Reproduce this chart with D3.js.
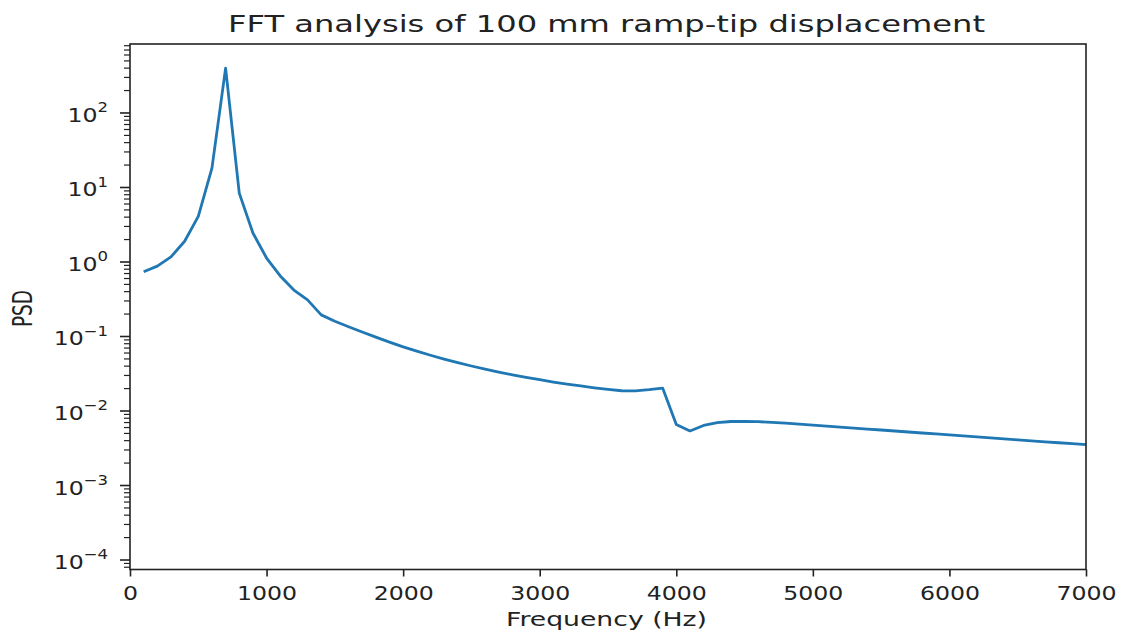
<!DOCTYPE html>
<html>
<head>
<meta charset="utf-8">
<script src="https://cdn.jsdelivr.net/npm/d3@7"></script>
<style>
  body { margin: 0; background: #fff; }
  svg text { font-family: "DejaVu Sans", sans-serif; fill: #222; }
</style>
</head>
<body>
<svg id="chart" width="1129" height="632"></svg>
<script>
// frequency samples (Hz) and PSD
const freqs = [
  100, 200, 300, 400, 500, 600, 700, 800, 900, 1000,
  1100, 1200, 1300, 1400, 1500, 1600, 1700, 1800, 1900, 2000,
  2100, 2200, 2300, 2400, 2500, 2600, 2700, 2800, 2900, 3000,
  3100, 3200, 3300, 3400, 3500, 3600, 3700, 3800, 3900, 4000,
  4100, 4200, 4300, 4400, 4500, 4600, 4700, 4800, 4900, 5000,
  5100, 5200, 5300, 5400, 5500, 5600, 5700, 5800, 5900, 6000,
  6100, 6200, 6300, 6400, 6500, 6600, 6700, 6800, 6900, 7000
];
const psd = [
  0.74, 0.88, 1.17, 1.9, 4.1, 18.2, 400, 8.4, 2.45, 1.13,
  0.65, 0.42, 0.31, 0.195, 0.160, 0.135, 0.115, 0.098, 0.084, 0.0725,
  0.0635, 0.0560, 0.0498, 0.0446, 0.0402, 0.0365, 0.0333, 0.0306, 0.0283, 0.0263,
  0.0245, 0.0230, 0.0217, 0.0205, 0.0195, 0.0187, 0.0186, 0.0193, 0.0203, 0.0066,
  0.0054, 0.0064, 0.0070, 0.00723, 0.00725, 0.00718, 0.00705, 0.00688, 0.00668, 0.00648,
  0.00628, 0.00609, 0.00591, 0.00573, 0.00556, 0.00539, 0.00523, 0.00507, 0.00492, 0.00477,
  0.00463, 0.00449, 0.00436, 0.00423, 0.00410, 0.00398, 0.00386, 0.00375, 0.00364, 0.00353
];
const xTicks = [0, 1000, 2000, 3000, 4000, 5000, 6000, 7000];
const yPowers = [-4, -3, -2, -1, 0, 1, 2];

const margin = { top: 44, left: 130 };
const width = 956;
const height = 525.5;
const stretch = 1.18; // the picture is stretched sideways

const svg = d3.select("#chart");
const g = svg.append("g").attr("transform", `translate(${margin.left},${margin.top})`);

const x = d3.scaleLinear().domain([0, 7000]).range([0, width]);
const y = d3.scaleLog().domain([7.46e-5, 843]).range([height, 0]);

// line
g.append("path")
  .datum(freqs.map((f, i) => [f, psd[i]]))
  .attr("fill", "none")
  .attr("stroke", "#1f77b4")
  .attr("stroke-width", 2.8)
  .attr("stroke-linejoin", "round")
  .attr("d", d3.line().x((d) => x(d[0])).y((d) => y(d[1])));

// x axis
const xAxis = g.append("g")
  .attr("transform", `translate(0,${height})`)
  .call(d3.axisBottom(x).tickValues(xTicks).tickFormat(d3.format("d")).tickSize(7).tickPadding(9));
xAxis.select(".domain").remove();
xAxis.selectAll("line").attr("stroke", "#222").attr("stroke-width", 1.6);
xAxis.selectAll("text")
  .attr("font-size", 20)
  .attr("transform", `scale(${stretch},1)`);

// y axis: minor ticks
const minor = [];
for (let p = -5; p <= 2; p++) {
  for (let m = 2; m <= 9; m++) {
    const v = m * Math.pow(10, p);
    if (v >= y.domain()[0] && v <= y.domain()[1]) minor.push(v);
  }
}
g.append("g").selectAll("line").data(minor).join("line")
  .attr("x1", -6).attr("x2", 0)
  .attr("y1", (d) => y(d)).attr("y2", (d) => y(d))
  .attr("stroke", "#222").attr("stroke-width", 1.2);

// y axis: major ticks
const majors = yPowers.map((p) => Math.pow(10, p));
g.append("g").selectAll("line").data(majors).join("line")
  .attr("x1", -10).attr("x2", 0)
  .attr("y1", (d) => y(d)).attr("y2", (d) => y(d))
  .attr("stroke", "#222").attr("stroke-width", 1.6);

const yLab = g.append("g").selectAll("text").data(yPowers).join("text")
  .attr("text-anchor", "end")
  .attr("transform", (p) => `translate(-22,${y(Math.pow(10, p)) + 9}) scale(${stretch},1)`)
  .attr("font-size", 20);
yLab.append("tspan").text("10");
yLab.append("tspan")
  .attr("dy", -10)
  .attr("font-size", 14)
  .text((p) => (p < 0 ? "\u2212" + Math.abs(p) : String(p)));

// frame
g.append("rect")
  .attr("width", width).attr("height", height)
  .attr("fill", "none").attr("stroke", "#222").attr("stroke-width", 1.6);

// title and axis labels
svg.append("text")
  .attr("x", 606.5).attr("y", 32)
  .attr("text-anchor", "middle")
  .attr("font-size", 23)
  .attr("textLength", 757).attr("lengthAdjust", "spacingAndGlyphs")
  .text("FFT analysis of 100 mm ramp-tip displacement");

svg.append("text")
  .attr("x", 606.5).attr("y", 626)
  .attr("text-anchor", "middle")
  .attr("font-size", 19)
  .attr("textLength", 201).attr("lengthAdjust", "spacingAndGlyphs")
  .text("Frequency (Hz)");

svg.append("text")
  .attr("transform", "translate(32,308.5) scale(1.18,1) rotate(-90)")
  .attr("text-anchor", "middle")
  .attr("font-size", 22)
  .attr("textLength", 37).attr("lengthAdjust", "spacingAndGlyphs")
  .text("PSD");
</script>
</body>
</html>
